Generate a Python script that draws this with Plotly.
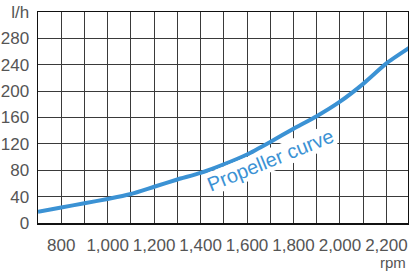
import plotly.graph_objects as go

rpm = [700, 800, 900, 1000, 1100, 1200, 1300, 1400, 1500, 1600, 1700, 1800, 1900, 2000, 2100, 2200, 2300]
fuel_lph = [17, 23.5, 30, 36.5, 44, 55, 66, 76, 89, 104, 123, 143, 162, 184, 211, 242, 266]

x_ticks = [800, 1000, 1200, 1400, 1600, 1800, 2000, 2200]
x_ticklabels = ["800", "1,000", "1,200", "1,400", "1,600", "1,800", "2,000", "2,200"]
y_ticks = [0, 40, 80, 120, 160, 200, 240, 280, 320]
y_ticklabels = ["0", "40", "80", "120", "160", "200", "240", "280", "l/h"]

blue = "#3b92d4"
grid = "#3a3a3a"
txt = "#555555"
font_family = "Liberation Sans, Arial, sans-serif"

fig = go.Figure()
fig.add_trace(go.Scatter(
    x=rpm, y=fuel_lph, mode="lines",
    line=dict(color=blue, width=4, shape="spline", smoothing=0.6),
    hoverinfo="skip", showlegend=False,
))

fig.update_layout(
    width=409, height=272,
    margin=dict(l=38, r=1, t=12, b=49, autoexpand=False),
    paper_bgcolor="white", plot_bgcolor="white",
    font=dict(family=font_family, size=17, color=txt),
    xaxis=dict(
        range=[700, 2293], automargin=False,
        tickvals=x_ticks, ticktext=x_ticklabels,
        showgrid=True, gridcolor=grid, gridwidth=1,
        minor=dict(dtick=100, tick0=700, showgrid=True, gridcolor=grid, gridwidth=1),
        showline=True, linecolor="#111", linewidth=1.5, mirror=True,
        ticks="outside", ticklen=6, tickcolor="rgba(0,0,0,0)",
        zeroline=False,
        tickfont=dict(size=17, color=txt),
    ),
    yaxis=dict(
        range=[0, 320], automargin=False,
        tickvals=y_ticks, ticktext=y_ticklabels,
        showgrid=True, gridcolor=grid, gridwidth=1,
        showline=True, linecolor="#111", linewidth=1.5, mirror=True,
        ticks="outside", ticklen=4, tickcolor="rgba(0,0,0,0)",
        zeroline=False,
        tickfont=dict(size=17, color=txt),
    ),
    annotations=[
        dict(text="Propeller curve", x=1700, y=96, xref="x", yref="y",
             showarrow=False, textangle=-22,
             font=dict(family="Liberation Sans Narrow, Arial Narrow, sans-serif", size=20, color=blue),
             bgcolor="white", borderpad=0),
        dict(text="rpm", x=1, y=-0.187, xref="paper", yref="paper",
             xanchor="right", yanchor="middle", showarrow=False,
             font=dict(size=15, color=txt)),
    ],
)

fig.write_html("out.html", config={"displayModeBar": False, "staticPlot": True},
               post_script="document.body.style.margin='0';document.body.style.overflow='hidden';")
